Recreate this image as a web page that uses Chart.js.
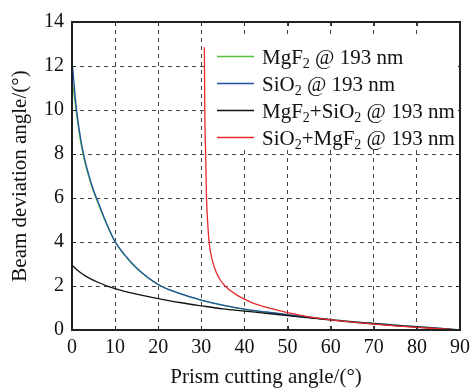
<!DOCTYPE html>
<html><head><meta charset="utf-8">
<script src="https://cdn.jsdelivr.net/npm/chart.js@4.4.1/dist/chart.umd.min.js"></script>
<style>html,body{margin:0;padding:0;background:#fff}#wrap{width:476px;height:388px;position:relative}</style>
</head><body><div id="wrap"><canvas id="c" width="476" height="388"></canvas></div>
<script>
// ---- data ----
const seriesNames = ['MgF{2} @ 193 nm', 'SiO{2} @ 193 nm', 'MgF{2}+SiO{2} @ 193 nm', 'SiO{2}+MgF{2} @ 193 nm'];
const seriesColors = ['#55c03a', '#2152a8', '#111111', '#e82a2a'];
const xSingle = [0, 1, 2, 3, 4, 5, 6, 8, 10, 12, 15, 20, 25, 30, 35, 40, 45, 50, 55, 60, 65, 70, 75, 80, 85, 90];
const mgf2Vals = [11.44, 9.9, 8.55, 7.62, 6.9, 6.28, 5.78, 4.82, 4.0, 3.45, 2.8, 2.06, 1.65, 1.35, 1.12, 0.94, 0.81, 0.69, 0.57, 0.47, 0.38, 0.3, 0.22, 0.15, 0.08, 0];
const sio2Vals = [12.27, 10.1, 8.7, 7.72, 6.98, 6.35, 5.85, 4.85, 4.02, 3.47, 2.82, 2.07, 1.66, 1.36, 1.13, 0.95, 0.82, 0.7, 0.58, 0.47, 0.38, 0.3, 0.22, 0.15, 0.08, 0];
const xCombo = [0, 1, 2, 3, 4, 6, 8, 10, 12, 15, 20, 25, 30, 35, 40, 45, 50, 55, 60, 65, 70, 75, 80, 85, 90];
const mgf2Sio2Vals = [2.95, 2.76, 2.6, 2.47, 2.36, 2.17, 2.01, 1.88, 1.77, 1.63, 1.43, 1.25, 1.1, 0.96, 0.86, 0.76, 0.66, 0.55, 0.46, 0.36, 0.28, 0.2, 0.13, 0.06, 0];
const xRed = [30.7, 30.8, 31.0, 31.2, 31.5, 31.8, 32.5, 33.5, 34.5, 35.5, 36.2, 38, 40, 42, 45, 50, 55, 60, 65, 70, 75, 80, 85, 90];
const sio2Mgf2Vals = [12.85, 10, 8, 6, 4.8, 4, 3.2, 2.6, 2.25, 2.0, 1.88, 1.62, 1.4, 1.22, 1.04, 0.79, 0.6, 0.46, 0.36, 0.27, 0.19, 0.12, 0.06, 0];
const xTicks = [0, 10, 20, 30, 40, 50, 60, 70, 80, 90];
const yTicks = [0, 2, 4, 6, 8, 10, 12, 14];
const xTitle = 'Prism cutting angle/(°)';
const yTitle = 'Beam deviation angle/(°)';

const FONT = "'Liberation Serif', 'Times New Roman', serif";
const pts = (xs, ys) => xs.map((x, i) => ({x: x, y: ys[i]}));
const seriesX = [xSingle, xSingle, xCombo, xRed];
const seriesY = [mgf2Vals, sio2Vals, mgf2Sio2Vals, sio2Mgf2Vals];
const drawOrder = [3, 2, 1, 0];

const datasets = seriesNames.map((n, i) => ({
  label: n.replace(/[{}]/g, ''),
  data: pts(seriesX[i], seriesY[i]),
  borderColor: seriesColors[i],
  backgroundColor: seriesColors[i],
  borderWidth: 1.3,
  pointRadius: 0,
  showLine: true,
  fill: false,
  cubicInterpolationMode: 'monotone',
  order: drawOrder[i]
}));

function drawRich(ctx, str, x, y, size, subSize, subDy) {
  const parts = str.split(/(\{[^}]*\})/).filter(s => s.length);
  parts.forEach(p => {
    if (p[0] === '{') {
      const t = p.slice(1, -1);
      ctx.font = subSize + 'px ' + FONT;
      ctx.fillText(t, x, y + subDy);
      x += ctx.measureText(t).width;
    } else {
      ctx.font = size + 'px ' + FONT;
      ctx.fillText(p, x, y);
      x += ctx.measureText(p).width;
    }
  });
}

const framePlugin = {
  id: 'frame',
  afterDatasetsDraw(chart) {
    const {ctx, chartArea: a, scales} = chart;
    ctx.save();
    ctx.strokeStyle = '#222';
    ctx.lineWidth = 1;
    ctx.beginPath();
    xTicks.forEach(v => {
      const px = Math.round(scales.x.getPixelForValue(v)) + 0.5;
      ctx.moveTo(px, a.bottom); ctx.lineTo(px, a.bottom - 4);
      ctx.moveTo(px, a.top); ctx.lineTo(px, a.top + 4);
    });
    yTicks.forEach(v => {
      const py = Math.round(scales.y.getPixelForValue(v)) + 0.5;
      ctx.moveTo(a.left, py); ctx.lineTo(a.left + 4, py);
      ctx.moveTo(a.right, py); ctx.lineTo(a.right - 4, py);
    });
    ctx.stroke();
    ctx.lineWidth = 2;
    ctx.strokeRect(a.left, a.top, a.right - a.left, a.bottom - a.top);

    // legend
    const bx = a.left + 136, by = a.top + 13, bw = 250, bh = 115;
    ctx.fillStyle = '#fff';
    ctx.fillRect(bx, by, bw, bh);
    seriesNames.forEach((n, i) => {
      const ry = by + 21.5 + i * 27;
      ctx.strokeStyle = seriesColors[i];
      ctx.lineWidth = 1.5;
      ctx.beginPath();
      ctx.moveTo(bx + 9, ry); ctx.lineTo(bx + 46, ry);
      ctx.stroke();
      ctx.fillStyle = '#111';
      ctx.textBaseline = 'alphabetic';
      ctx.textAlign = 'left';
      drawRich(ctx, n, bx + 54, ry + 7.5, 21, 14, 4);
    });
    ctx.restore();
  }
};

new Chart(document.getElementById('c'), {
  type: 'scatter',
  data: {datasets: datasets},
  options: {
    responsive: false,
    animation: false,
    devicePixelRatio: 1,
    layout: {padding: {left: 0, top: 22, right: 11, bottom: 0}},
    plugins: {legend: {display: false}, tooltip: {enabled: false}},
    scales: {
      x: {
        type: 'linear', min: 0, max: 90,
        afterBuildTicks: s => { s.ticks = xTicks.map(v => ({value: v})); },
        afterFit: s => { s.height = 58; },
        grid: {color: '#444', lineWidth: 1, drawTicks: false},
        border: {display: false, dash: [4, 4]},
        ticks: {font: {family: FONT, size: 20}, color: '#111', padding: 6, maxRotation: 0, autoSkip: false},
        title: {display: true, text: xTitle, font: {family: FONT, size: 21, lineHeight: 1}, color: '#111', padding: {top: 0, bottom: 0}}
      },
      y: {
        type: 'linear', min: 0, max: 14,
        afterBuildTicks: s => { s.ticks = yTicks.map(v => ({value: v})); },
        afterFit: s => { s.width = 72; },
        grid: {color: '#444', lineWidth: 1, drawTicks: false},
        border: {display: false, dash: [4, 4]},
        ticks: {font: {family: FONT, size: 20}, color: '#111', padding: 8, autoSkip: false},
        title: {display: true, text: yTitle, font: {family: FONT, size: 21, lineHeight: 1}, color: '#111', padding: {top: 10, bottom: 0}}
      }
    }
  },
  plugins: [framePlugin]
});
</script>
</body></html>
